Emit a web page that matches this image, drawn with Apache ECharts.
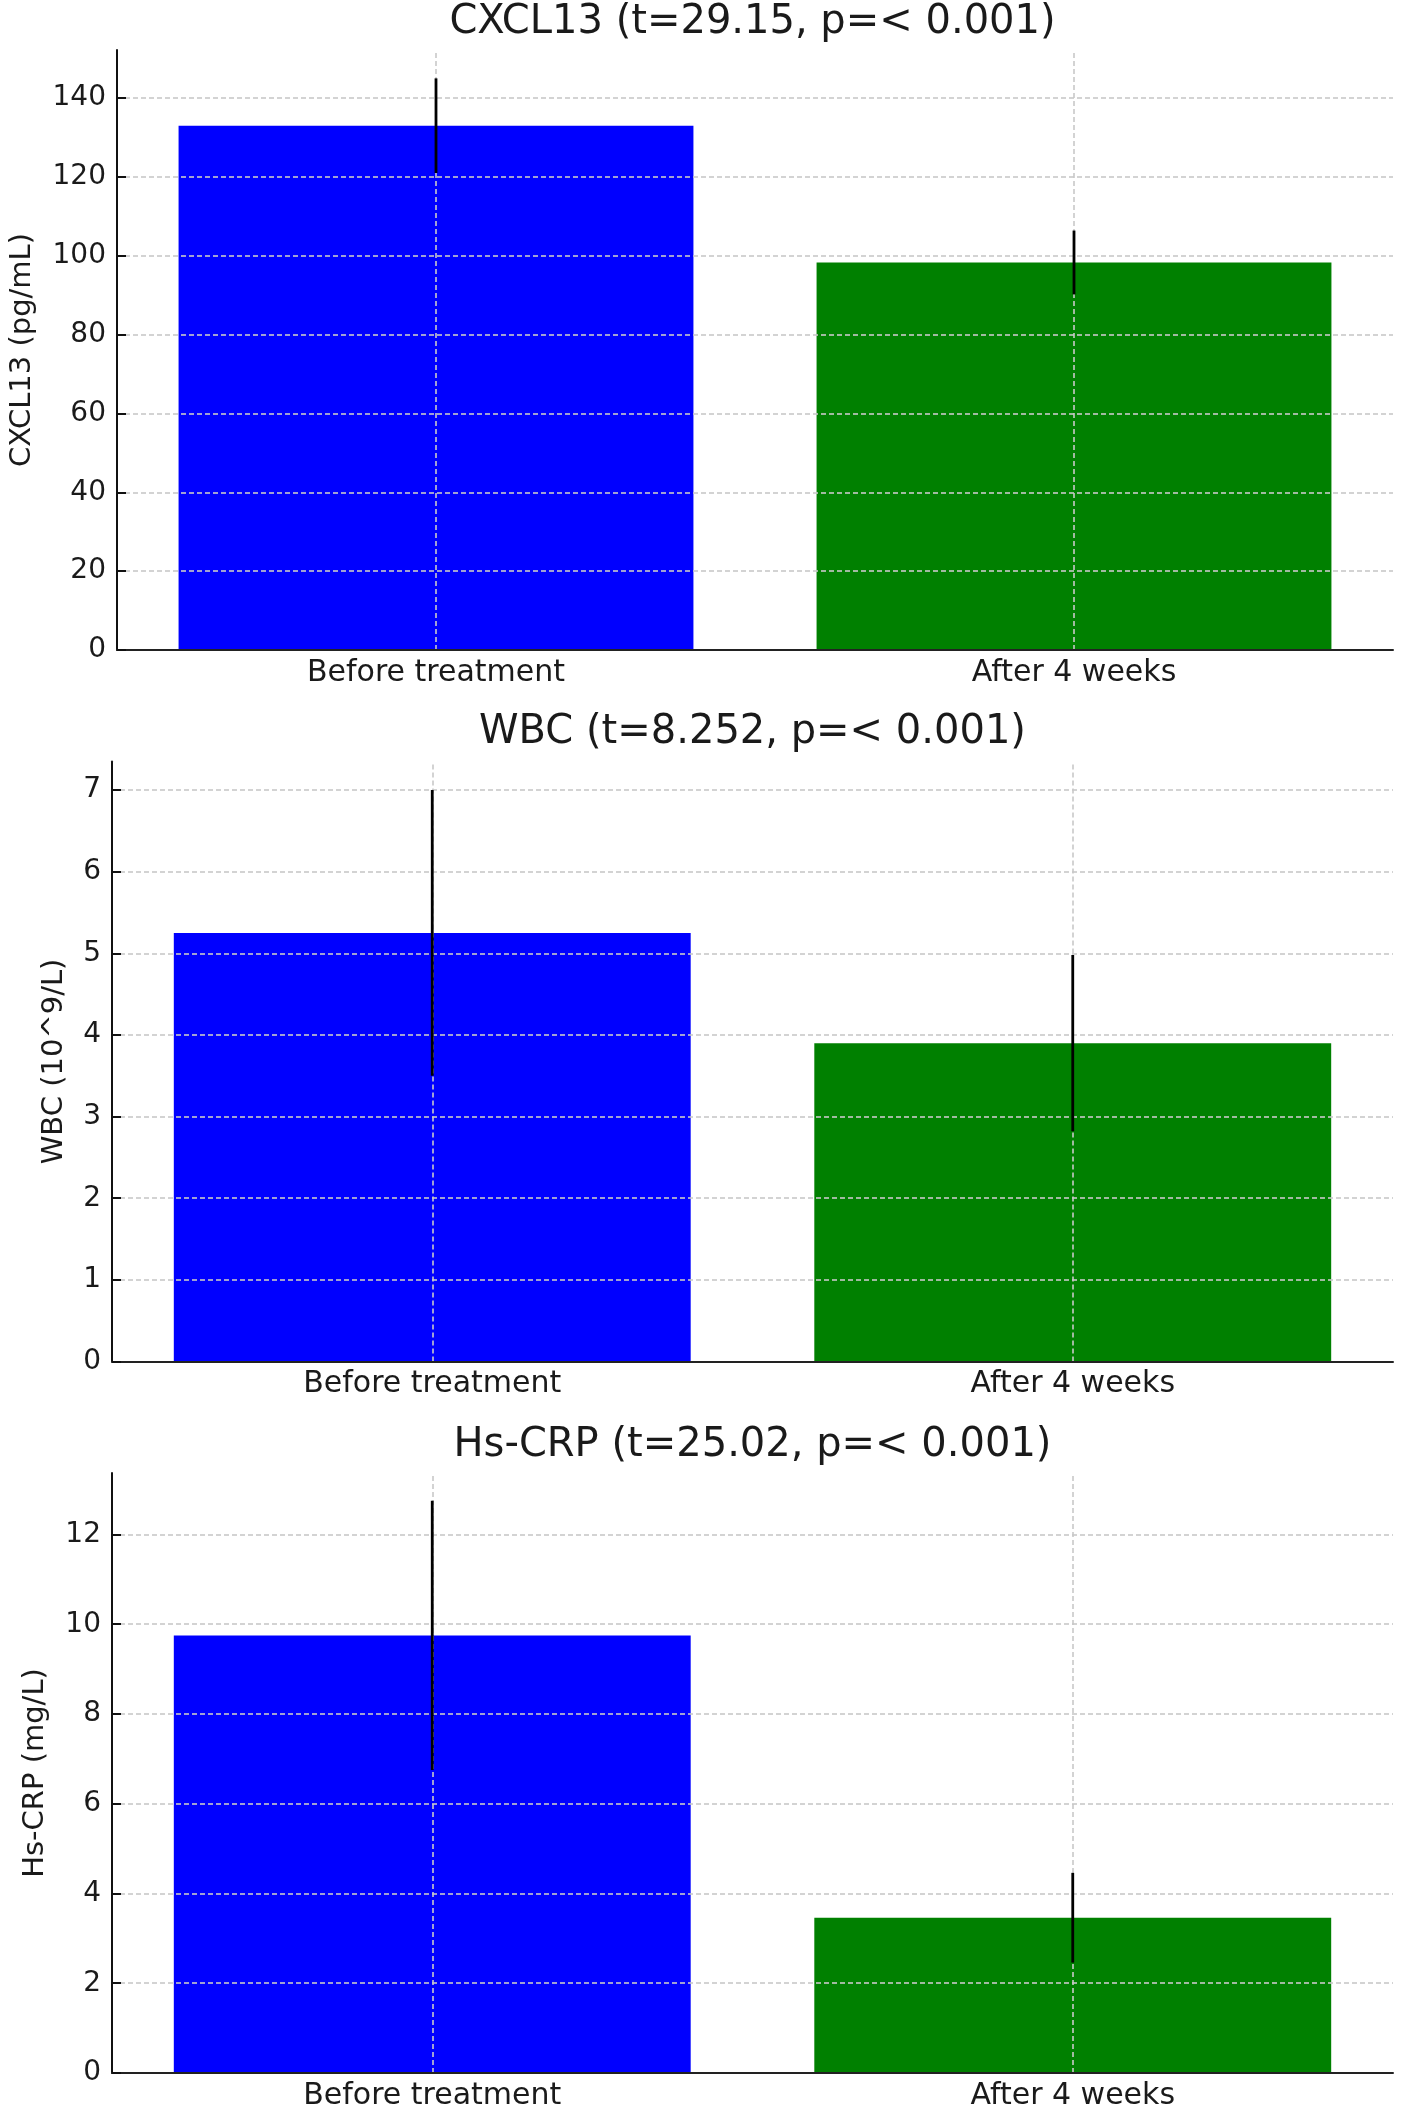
<!DOCTYPE html>
<html>
<head>
<meta charset="utf-8">
<script src="https://cdn.jsdelivr.net/npm/echarts@6/dist/echarts.min.js"></script>
<style>
  html, body { margin: 0; padding: 0; background: #ffffff; }
  #chart { width: 1417px; height: 2115px; }
</style>
</head>
<body>
<div id="chart"></div>
<script>
// ---- data ----
const categories = ['Before treatment', 'After 4 weeks'];

const cxcl13Mean = [133, 98.3];
const cxcl13Sd = [12, 8.1];
const wbcMean = [5.25, 3.9];
const wbcSd = [1.75, 1.08];
const crpMean = [9.75, 3.46];
const crpSd = [3.0, 1.0];

const cxcl13Ticks = [0, 20, 40, 60, 80, 100, 120, 140];
const wbcTicks = [0, 1, 2, 3, 4, 5, 6, 7];
const crpTicks = [0, 2, 4, 6, 8, 10, 12];

const panelTitles = [
  'CXCL13 (t=29.15, p=< 0.001)',
  'WBC (t=8.252, p=< 0.001)',
  'Hs-CRP (t=25.02, p=< 0.001)'
];
const yNames = ['CXCL13 (pg/mL)', 'WBC (10^9/L)', 'Hs-CRP (mg/L)'];

// ---- layout / style ----
const FONT = 'DejaVu Sans';
const TEXT = '#1a1a1a';
const barColors = ['#0000ff', '#008000'];
const gridColor = 'rgba(200,200,200,0.8)';
const gridLine = { color: gridColor, type: [5, 3], width: 2 };
const panels = [
  { mean: cxcl13Mean, sd: cxcl13Sd, ticks: cxcl13Ticks, max: 152.2, interval: 20, top: 50, nameGap: 80, titleTop: 3 },
  { mean: wbcMean, sd: wbcSd, ticks: wbcTicks, max: 7.35, interval: 1, top: 761.5, nameGap: 43, titleTop: 713 },
  { mean: crpMean, sd: crpSd, ticks: crpTicks, max: 13.37, interval: 2, top: 1473, nameGap: 62, titleTop: 1426 }
];
const GRID_LEFT = 112, GRID_W = 1281, GRID_H = 600;

const option = {
  animation: false,
  backgroundColor: '#ffffff',
  textStyle: { fontFamily: FONT },
  title: panels.map((p, i) => ({
    text: panelTitles[i],
    left: GRID_LEFT + GRID_W / 2,
    textAlign: 'center',
    top: p.titleTop,
    padding: 0,
    textStyle: { fontFamily: FONT, fontSize: 40, fontWeight: 'normal', color: TEXT }
  })),
  grid: panels.map(p => ({ left: GRID_LEFT, top: p.top, width: GRID_W, height: GRID_H, containLabel: false })),
  xAxis: panels.map((p, i) => ({
    type: 'category',
    gridIndex: i,
    data: categories,
    boundaryGap: true,
    z: 6,
    axisLine: { show: true, lineStyle: { color: '#222', width: 2 } },
    axisTick: { show: false },
    axisLabel: { margin: 8, fontSize: 30, color: TEXT, fontFamily: FONT },
    splitLine: { show: false }
  })),
  yAxis: panels.map((p, i) => ({
    type: 'value',
    gridIndex: i,
    min: 0,
    max: p.max,
    interval: p.interval,
    z: 6,
    name: yNames[i],
    nameLocation: 'middle',
    nameGap: p.nameGap,
    nameTextStyle: { fontSize: 29, color: TEXT, fontFamily: FONT },
    axisLine: { show: true, lineStyle: { color: '#111', width: 2 } },
    axisTick: { show: true, inside: true, length: 9, lineStyle: { color: '#111', width: 2 }, customValues: p.ticks },
    axisLabel: { margin: 11, fontSize: 28, color: TEXT, fontFamily: FONT, customValues: p.ticks },
    splitLine: { show: false }
  })),
  series: []
};

panels.forEach((p, i) => {
  option.series.push({
    type: 'bar',
    xAxisIndex: i,
    yAxisIndex: i,
    barWidth: '80.7%',
    z: 2,
    data: p.mean.map((v, k) => ({ value: v, itemStyle: { color: barColors[k] } })),
    markLine: {
      silent: true,
      z: 4,
      symbol: 'none',
      label: { show: false },
      emphasis: { disabled: true },
      lineStyle: gridLine,
      data: categories.map(c => ({ xAxis: c }))
        .concat(p.ticks.filter(t => t > 0).map(t => ({ yAxis: t })))
    }
  });
  option.series.push({
    type: 'custom',
    xAxisIndex: i,
    yAxisIndex: i,
    z: 5,
    encode: { x: 0, y: 1 },
    data: p.mean.map((m, k) => [k, m, p.sd[k]]),
    renderItem: function (params, api) {
      const x = api.value(0), m = api.value(1), s = api.value(2);
      const a = api.coord([x, m + s]);
      const b = api.coord([x, m - s]);
      return {
        type: 'line',
        shape: { x1: a[0], y1: a[1], x2: b[0], y2: b[1] },
        style: { stroke: '#000', lineWidth: 2.8 }
      };
    }
  });
});

const chart = echarts.init(document.getElementById('chart'), null, { renderer: 'canvas' });
chart.setOption(option);
</script>
</body>
</html>
